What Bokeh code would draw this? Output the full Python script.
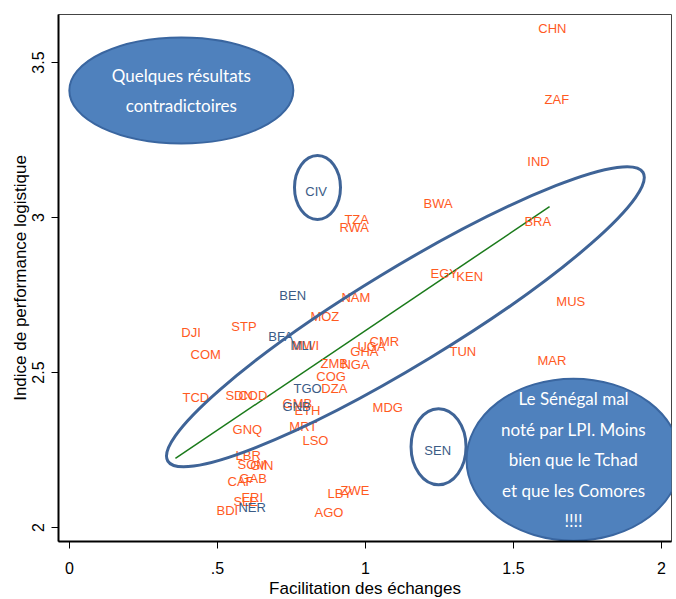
from bokeh.plotting import figure
from bokeh.models import ColumnDataSource, FixedTicker, Range1d
from bokeh.core.properties import value
from bokeh.embed import file_html
from bokeh.resources import INLINE

# ---- data (country codes, trade facilitation, LPI) ----
codes = ["CHN", "ZAF", "IND", "BWA", "BRA", "TZA", "RWA", "CIV", "EGY", "KEN",
         "MUS", "BEN", "NAM", "MOZ", "DJI", "STP", "BFA", "MWI", "MLI", "COM",
         "CMR", "UGA", "GHA", "TUN", "MAR", "ZMB", "NGA", "COG", "TGO", "DZA",
         "TCD", "SDN", "COD", "GMB", "GNB", "ETH", "MDG", "MRT", "GNQ", "LSO",
         "SEN", "LBR", "SOM", "GIN", "GAB", "CAF", "ERI", "SLE", "BDI", "NER",
         "LBY", "ZWE", "AGO"]
facil = [1.584, 1.605, 1.547, 1.196, 1.537, 0.929, 0.912, 0.797, 1.220, 1.307,
         1.645, 0.709, 0.919, 0.814, 0.378, 0.547, 0.672, 0.753, 0.747, 0.409,
         1.014, 0.973, 0.949, 1.284, 1.581, 0.848, 0.919, 0.834, 0.757, 0.851,
         0.382, 0.527, 0.571, 0.720, 0.720, 0.760, 1.024, 0.743, 0.551, 0.787,
         1.199, 0.561, 0.568, 0.611, 0.574, 0.534, 0.581, 0.554, 0.497, 0.571,
         0.872, 0.916, 0.828]
lpi = [3.610, 3.381, 3.181, 3.045, 2.987, 2.994, 2.968, 3.084, 2.819, 2.810,
       2.729, 2.748, 2.742, 2.681, 2.629, 2.648, 2.616, 2.587, 2.587, 2.558,
       2.600, 2.584, 2.568, 2.568, 2.539, 2.529, 2.526, 2.487, 2.448, 2.448,
       2.419, 2.426, 2.426, 2.400, 2.390, 2.377, 2.387, 2.326, 2.316, 2.281,
       2.248, 2.232, 2.203, 2.200, 2.158, 2.148, 2.097, 2.084, 2.055, 2.065,
       2.110, 2.119, 2.048]
highlighted = ["CIV", "BEN", "BFA", "MLI", "TGO", "GNB", "SEN", "NER"]

# fitted line
fit_x = [0.358, 1.622]
fit_y = [2.223, 3.035]

x_ticks = [0, 0.5, 1, 1.5, 2]
x_tick_labels = ["0", ".5", "1", "1.5", "2"]
y_ticks = [2, 2.5, 3, 3.5]
y_tick_labels = ["2", "2.5", "3", "3.5"]

# annotations: outlined ellipses (center x, center y, screen width, screen height, angle)
outline_ellipses = [(1.135, 2.680, 556, 96, 0.546),
                    (0.838, 3.097, 46, 64, 0.0),
                    (1.247, 2.261, 55, 76, 0.0)]
# filled callouts (center x, center y, screen width, screen height, text)
callouts = [(0.378, 3.410, 224, 106, "Quelques résultats\ncontradictoires"),
            (1.703, 2.219, 214, 162,
             "Le Sénégal mal\nnoté par LPI. Moins\nbien que le Tchad\net que les Comores\n!!!!")]

ORANGE = "#FF5A1F"
BLUE = "#3B5B85"

p = figure(frame_width=613, frame_height=527, output_backend="svg",
           toolbar_location=None, x_range=Range1d(-0.037, 2.034),
           y_range=Range1d(1.955, 3.655),
           min_border_left=58, min_border_top=14, min_border_right=5,
           min_border_bottom=58)
p.background_fill_color = "white"
p.border_fill_color = "white"
p.outline_line_color = "#444444"
p.outline_line_width = 1
p.xgrid.visible = False
p.ygrid.visible = False

for ax in (p.xaxis, p.yaxis):
    ax.axis_line_color = "black"
    ax.axis_line_width = 2
    ax.major_tick_line_color = "black"
    ax.major_tick_line_width = 1
    ax.major_tick_in = 0
    ax.major_tick_out = 7
    ax.minor_tick_line_color = None
    ax.major_label_text_font = "Liberation Sans"
    ax.major_label_text_font_size = "16px"
    ax.major_label_text_color = "black"
    ax.axis_label_text_font = "Liberation Sans"
    ax.axis_label_text_font_size = "17px"
    ax.axis_label_text_font_style = "normal"
    ax.axis_label_text_color = "black"

p.xaxis.ticker = FixedTicker(ticks=x_ticks)
p.xaxis.major_label_overrides = {t: l for t, l in zip(x_ticks, x_tick_labels)}
p.yaxis.ticker = FixedTicker(ticks=y_ticks)
p.yaxis.major_label_overrides = {t: l for t, l in zip(y_ticks, y_tick_labels)}
p.yaxis.major_label_orientation = "vertical"
p.xaxis.axis_label = "Facilitation des échanges"
p.yaxis.axis_label = "Indice de performance logistique"
p.xaxis.major_label_standoff = 13
p.xaxis.axis_label_standoff = 2
p.yaxis.major_label_standoff = 7
p.yaxis.axis_label_standoff = 0

# fit line
p.line(fit_x, fit_y, line_color="#1A7A1A", line_width=1.5)

# labels
orange_src = ColumnDataSource(dict(
    x=[f for c, f in zip(codes, facil) if c not in highlighted],
    y=[v for c, v in zip(codes, lpi) if c not in highlighted],
    t=[c for c in codes if c not in highlighted]))
blue_src = ColumnDataSource(dict(
    x=[f for c, f in zip(codes, facil) if c in highlighted],
    y=[v for c, v in zip(codes, lpi) if c in highlighted],
    t=[c for c in codes if c in highlighted]))
for src, col in ((orange_src, ORANGE), (blue_src, BLUE)):
    p.text(x="x", y="y", text="t", source=src, text_color=col,
           text_font=value("Liberation Sans"), text_font_size="13px",
           text_align="left", text_baseline="middle")

# outlined ellipses
for (cx, cy, w, h, a) in outline_ellipses:
    p.ellipse(x=[cx], y=[cy], width=w, height=h, angle=a,
              width_units="screen", height_units="screen",
              fill_color=None, line_color="#3F6497", line_width=3)

# filled callouts
for (cx, cy, w, h, txt) in callouts:
    p.ellipse(x=[cx], y=[cy], width=w, height=h,
              width_units="screen", height_units="screen",
              fill_color="#4F81BD", line_color="#3A66A0", line_width=2)
    p.text(x=[cx], y=[cy], text=[txt], text_color="white",
           text_font=value("Lato"), text_font_size="17px",
           text_align="center", text_baseline="middle", text_line_height=1.45)

open("out.html", "w").write(file_html(p, INLINE))
